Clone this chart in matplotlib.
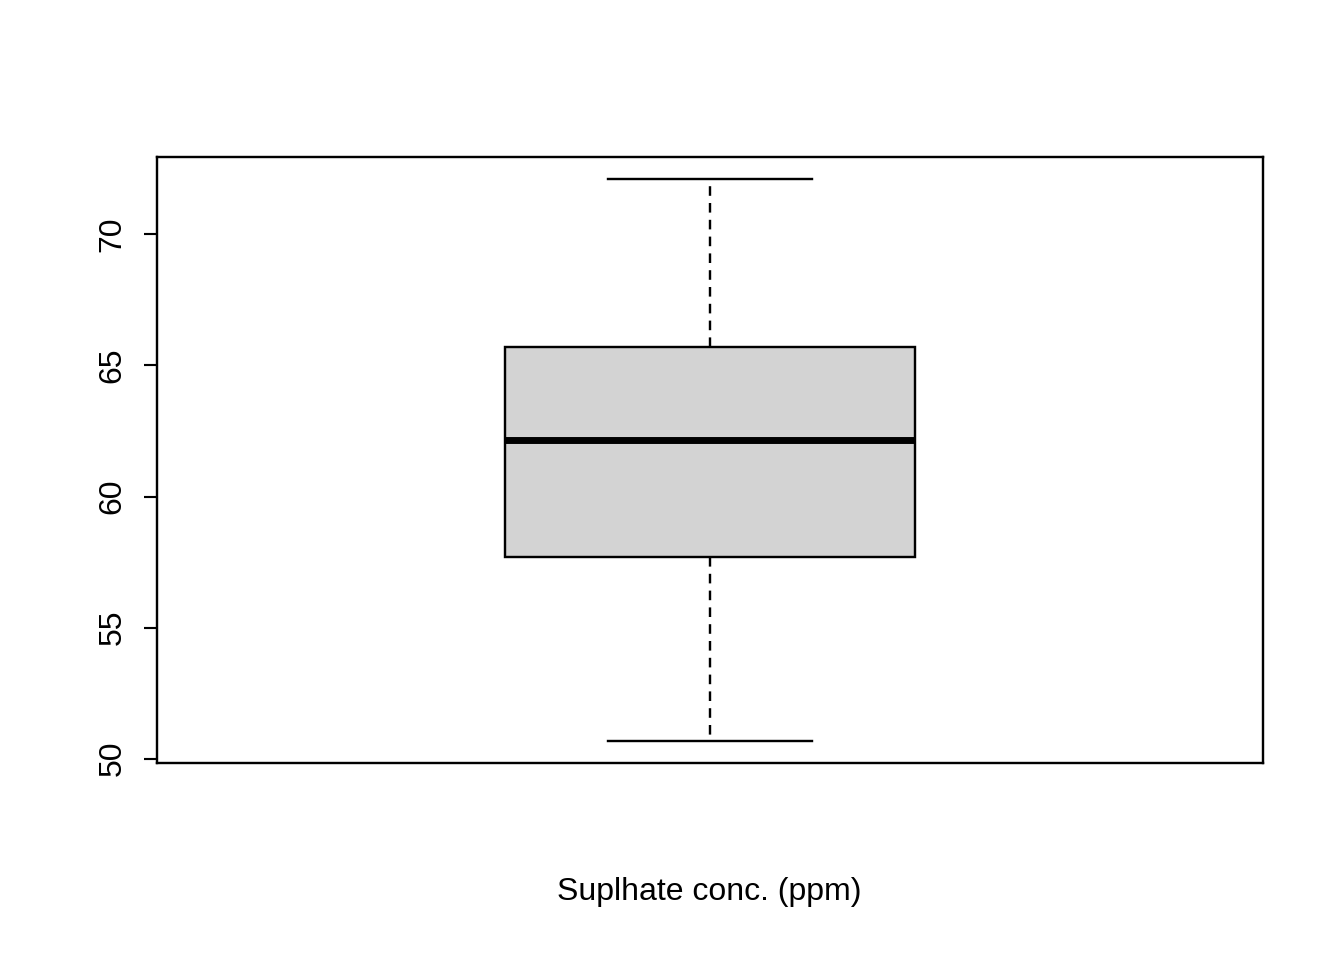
import matplotlib
matplotlib.use("Agg")
from matplotlib import pyplot as plt

# summary stats
whislo = 50.69
q1 = 57.71
med = 62.14
q3 = 65.69
whishi = 72.1
yticks = [50, 55, 60, 65, 70]
xlabel = "Suplhate conc. (ppm)"

plt.rcParams['font.family'] = ['Liberation Sans', 'DejaVu Sans']

fig = plt.figure(figsize=(7, 5), dpi=192)
ax = fig.add_axes([0.1168, 0.2052, 0.8229, 0.6313])

stats = [dict(whislo=whislo, q1=q1, med=med, q3=q3, whishi=whishi, fliers=[])]
ax.bxp(stats, positions=[1], widths=0.37, patch_artist=True, showfliers=False,
       boxprops=dict(facecolor="#d3d3d3", edgecolor="black", linewidth=0.9),
       medianprops=dict(color="black", linewidth=2.6),
       whiskerprops=dict(color="black", linestyle=(0, (4, 3)), linewidth=0.9),
       capprops=dict(color="black", linewidth=0.9), capwidths=0.185)

rng = whishi - whislo
ax.set_ylim(whislo - 0.04 * rng, whishi + 0.04 * rng)
ax.set_xlim(0.5, 1.5)
ax.set_xticks([])
ax.set_yticks(yticks)
ax.set_yticklabels([str(t) for t in yticks], rotation=90, va="center", fontsize=12)
ax.tick_params(axis="y", length=5, pad=6)
for s in ax.spines.values():
    s.set_linewidth(0.9)
fig.text(0.528, 0.062, xlabel, ha="center", fontsize=12)

fig.savefig("out.png")
